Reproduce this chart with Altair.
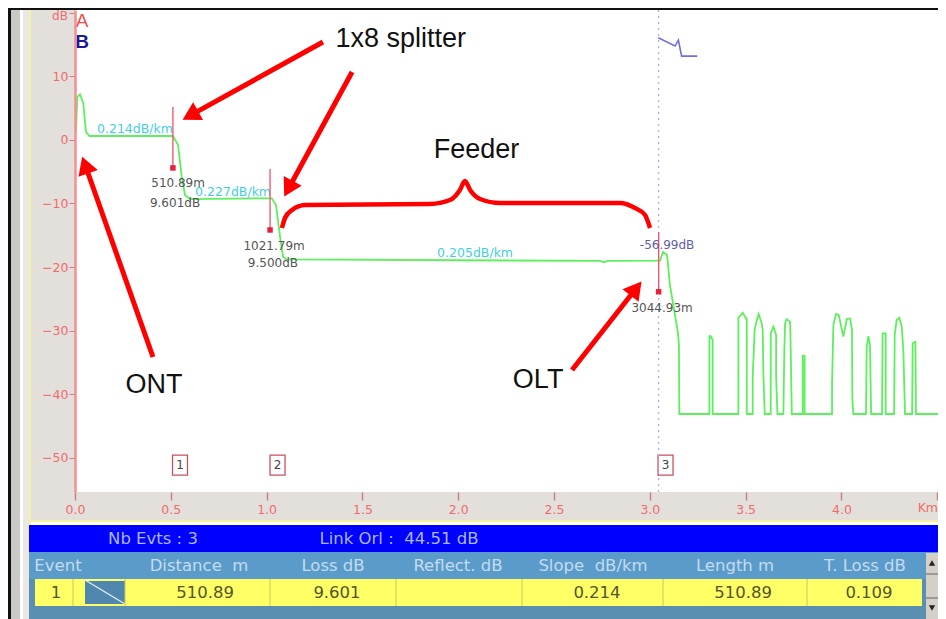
import altair as alt
import pandas as pd

# ---------- data (km, dB) ----------
trace_km = [0.005,0.012,0.026,0.043,0.057,0.075,0.511,0.538,0.557,0.574,0.600,1.027,1.049,1.070,1.086,1.105,
            2.74,2.76,2.78,3.053,3.069,3.09,3.105,3.147,3.152,3.154,
            3.311,3.311,3.317,3.328,3.328,
            3.462,3.462,3.467,3.485,3.502,3.506,3.506,
            3.537,3.537,3.547,3.554,3.568,3.584,3.589,3.593,3.600,
            3.631,3.631,3.645,3.659,3.659,3.666,
            3.697,3.702,3.706,3.714,3.732,3.735,3.741,
            3.798,3.798,3.808,3.808,
            3.951,3.951,3.958,3.972,3.986,4.010,4.028,4.045,4.055,4.057,4.062,
            4.128,4.132,4.141,4.149,4.155,
            4.212,4.215,4.231,4.231,
            4.275,4.278,4.288,4.302,4.315,4.323,4.332,
            4.369,4.372,4.386,4.389,4.504]
trace_db = [1.3,6.77,7.2,5.83,1.3,0.63,0.63,-0.8,-5.78,-8.66,-9.3,-9.18,-10.24,-15.2,-18.4,-18.8,
            -19.05,-19.25,-19.05,-19.0,-17.64,-18.1,-22.8,-30.4,-32.3,-43.15,
            -43.15,-30.87,-30.87,-31.5,-43.15,
            -43.15,-28.0,-27.8,-27.2,-28.1,-28.1,-43.15,
            -43.15,-37.3,-29.9,-28.9,-27.4,-28.9,-29.9,-37.3,-43.15,
            -43.15,-30.45,-29.4,-30.7,-37.3,-43.15,
            -43.15,-33.07,-28.9,-28.2,-28.6,-32.44,-43.15,
            -43.15,-34.0,-34.0,-43.15,
            -43.15,-38.3,-29.1,-27.4,-27.56,-30.97,-28.2,-28.1,-29.9,-40.7,-43.15,
            -43.15,-32.55,-30.87,-32.3,-43.15,
            -43.15,-30.45,-30.45,-43.15,
            -43.15,-30.7,-28.35,-28.0,-29.4,-33.07,-43.15,
            -43.15,-32.0,-31.76,-43.15,-43.15]
blue_km = [3.044,3.132,3.149,3.166,3.248]
blue_db = [16.1,14.8,15.75,13.2,13.2]

event_km = [0.511,1.018,3.046]
event_top = [5.2,-4.57,-14.5]
event_bot = [-4.4,-14.17,-23.9]
cursor_km = [3.046]

box_km = [0.548,1.057,3.082]
box_db = [-51.2,-51.2,-51.2]
box_txt = ["1","2","3"]

label_txt = ["510.89m","9.601dB","1021.79m","9.500dB","3044.93m"]
label_km = [0.538,0.522,1.039,1.033,3.064]
label_db = [-6.77,-9.92,-16.7,-19.37,-26.46]
slope_txt = ["0.214dB/km","0.227dB/km","0.205dB/km"]
slope_km = [0.313,0.825,2.088]
slope_db = [1.73,-8.19,-17.8]

note_txt = ["1x8 splitter","Feeder","ONT","OLT"]
note_km = [1.700,2.095,0.412,2.417]
note_db = [15.9,-1.57,-38.6,-37.8]

arrow_id = [1,1,2,2,3,3,4,4]
arrow_km = [1.294,0.602,1.446,1.114,0.407,0.053,2.594,2.928]
arrow_db = [15.43,3.87,10.71,-7.67,-34.17,-3.94,-36.22,-23.39]
head_km = [0.602,1.114,0.053,2.928]
head_db = [3.87,-7.67,-3.94,-23.39]
head_angle = [241,208.5,340.5,38.2]

brace_km = [1.080,1.096,1.133,1.200,1.853,1.957,2.009,2.035,2.062,2.114,2.218,2.844,2.923,2.975,3.001]
brace_db = [-13.86,-12.28,-11.02,-10.24,-10.08,-9.45,-7.87,-6.46,-7.87,-9.29,-9.92,-9.92,-10.71,-11.81,-13.86]

header_txt = ["Event","Distance\u00a0\u00a0m","Loss dB","Reflect. dB","Slope\u00a0\u00a0dB/km","Length m","T. Loss dB"]
row_txt = ["1","510.89","9.601","0.214","510.89","0.109"]
bar_txt = ["Nb Evts : 3","Link Orl :\u00a0\u00a044.51 dB"]

# ---------- layout ----------
OX, OY = 75, 10
W, H = 863, 482
RIGHT = 938
FONT = "Liberation Sans"
UI = "DejaVu Sans"
one = pd.DataFrame({"a": [0]})

xs = alt.Scale(domain=[0, 4.504], nice=False, zero=False)
ys = alt.Scale(domain=[-55.43, 20.47], nice=False, zero=False)
RED = "#f26a6a"
xaxis = alt.Axis(values=[0,0.5,1,1.5,2,2.5,3,3.5,4,4.5], title=None, grid=False, domain=False,
                 labelExpr="datum.value==4.5?'':format(datum.value,'.1f')", labelColor=RED,
                 labelFont=UI, labelFontSize=12.5, tickColor="#c98080", tickSize=8, tickWidth=1.5,
                 labelPadding=3, zindex=1, labelOverlap=False, labelFlush=False)
yaxis = alt.Axis(values=[-50,-40,-30,-20,-10,0,10,20], title=None, grid=False, domain=True,
                 domainColor="#f58f8f", domainWidth=2.5, labelExpr="datum.value==20?'':format(datum.value,'d')",
                 labelColor=RED, labelFont=UI, labelFontSize=12.5, tickColor="#c98080", tickSize=6,
                 labelPadding=1, zindex=1, labelOverlap=False)
X = lambda f: alt.X(f, type="quantitative", scale=xs, axis=xaxis)
Y = lambda f: alt.Y(f, type="quantitative", scale=ys, axis=yaxis)


def rect(x0, x1, y0, y1, fill):
    return alt.Chart(one).mark_rect(fill=fill).encode(
        x=alt.value(x0 - OX), x2=alt.value(x1 - OX), y=alt.value(y0 - OY), y2=alt.value(y1 - OY))


def text(s, x, y, color, size=16.5, align="center", font=UI, weight="normal"):
    return alt.Chart(one).mark_text(text=s, font=font, fontSize=size, color=color, align=align,
                                    baseline="middle", fontWeight=weight).encode(
        x=alt.value(x - OX), y=alt.value(y - OY))


def vline(x, y0, y1, color, width=1):
    return alt.Chart(one).mark_rule(color=color, strokeWidth=width).encode(
        x=alt.value(x - OX), y=alt.value(y0 - OY), y2=alt.value(y1 - OY))


GREY = "#e3e0dc"
chrome = [
    rect(8, RIGHT, 8, 10, "#111111"),
    rect(8, 11, 8, 619, "#111111"),
    rect(11, 20, 10, 619, "#c9c9c5"),
    rect(20, 23, 10, 619, "#ffffff"),
    rect(23, 29, 10, 619, "#e9e8e4"),
    rect(31, 75, 10, 521, GREY),
    rect(31, RIGHT, 492, 521, GREY),
    rect(29, 31, 10, 525, "#f7f0a0"),
    rect(29, RIGHT, 520, 522, "#f7f0a0"),
    rect(29, RIGHT, 525, 552, "#0000ff"),
    rect(29, RIGHT, 552, 579, "#5b9bca"),
    rect(29, RIGHT, 579, 619, "#5a8fb2"),
    rect(35, 922, 579, 606, "#ffff66"),
    rect(85, 125, 581, 604, "#4f87ae"),
    alt.Chart(one).mark_rule(color="#e8f0f4", strokeWidth=1.2).encode(
        x=alt.value(85 - OX), x2=alt.value(125 - OX), y=alt.value(580 - OY), y2=alt.value(604 - OY)),
    rect(926, RIGHT, 553, 619, "#d4d0c8"),
    rect(926, RIGHT, 573, 575, "#9a9a96"),
    rect(926, RIGHT, 597, 599, "#9a9a96"),
    text("Km", RIGHT, 508, RED, 12.5, align="right"),
    text("dB", 60, 16, RED, 12),
]
for dx in [73, 125, 270, 396, 522, 663, 807]:
    chrome.append(vline(dx, 579, 606, "#c8c860"))
for s, x in zip(bar_txt, [153, 399]):
    chrome.append(text(s, x, 539, "#aab8ff"))
for s, x in zip(header_txt, [58, 199, 333, 458, 593, 735, 865]):
    chrome.append(text(s, x, 566, "#c3dcf0"))
for s, x in zip(row_txt, [56, 205, 337, 597, 743, 869]):
    chrome.append(text(s, x, 593, "#55552a"))
for sh, y in zip(["triangle-up", "triangle-down"], [563, 608]):
    chrome.append(alt.Chart(one).mark_point(shape=sh, filled=True, color="#222222", size=40, opacity=1).encode(
        x=alt.value(932 - OX), y=alt.value(y - OY)))

# ---------- data layers ----------
df_trace = pd.DataFrame({"km": trace_km, "db": trace_db, "i": range(len(trace_km))})
df_blue = pd.DataFrame({"km": blue_km, "db": blue_db})
df_event = pd.DataFrame({"km": event_km, "top": event_top, "bot": event_bot})
df_box = pd.DataFrame({"km": box_km, "db": box_db, "t": box_txt})
df_label = pd.DataFrame({"km": label_km, "db": label_db, "t": label_txt})
df_slope = pd.DataFrame({"km": slope_km, "db": slope_db, "t": slope_txt})
df_note = pd.DataFrame({"km": note_km, "db": note_db, "t": note_txt})
df_arrow = pd.DataFrame({"km": arrow_km, "db": arrow_db, "id": arrow_id})
df_head = pd.DataFrame({"km": head_km, "db": head_db, "a": head_angle})
df_brace = pd.DataFrame({"km": brace_km, "db": brace_db})
df_cursor = pd.DataFrame({"km": cursor_km})

layers = chrome + [
    alt.Chart(df_box).mark_rect(width=15, height=20, fill="#ffffff", stroke="#c8505f", strokeWidth=1.3).encode(x=X("km"), y=Y("db")),
    alt.Chart(df_cursor).mark_rule(color="#a9a9f2", strokeWidth=1.2, strokeDash=[2, 4]).encode(x=X("km")),
    alt.Chart(df_slope).mark_text(font=UI, fontSize=12.5, color="#3fd0e0").encode(x=X("km"), y=Y("db"), text="t:N"),
    alt.Chart(df_trace).mark_line(color="#5cf05c", strokeWidth=1.8).encode(x=X("km"), y=Y("db"), order="i:Q"),
    alt.Chart(df_blue).mark_line(color="#6f6fe6", strokeWidth=1.6).encode(x=X("km"), y=Y("db")),
    alt.Chart(df_event).mark_rule(color="#f0506a", strokeWidth=1.3).encode(x=X("km"), y=Y("top"), y2="bot:Q"),
    alt.Chart(df_event).mark_square(color="#e8203a", size=30, opacity=1).encode(x=X("km"), y=Y("bot")),
    alt.Chart(df_label).mark_text(font=UI, fontSize=12, color="#555555").encode(x=X("km"), y=Y("db"), text="t:N"),
    alt.Chart(pd.DataFrame({"km": [3.09], "db": [-16.54], "t": ["-56.99dB"]})).mark_text(
        font=UI, fontSize=12, color="#5e5ea8").encode(x=X("km"), y=Y("db"), text="t:N"),
    alt.Chart(df_box).mark_text(font=UI, fontSize=12, color="#444444").encode(x=X("km"), y=Y("db"), text="t:N"),
    alt.Chart(df_arrow).mark_line(color="#ff0000", strokeWidth=5).encode(x=X("km"), y=Y("db"), detail="id:N"),
    alt.Chart(df_head).mark_point(shape="triangle-up", filled=True, color="#ff0000", size=420, opacity=1).encode(
        x=X("km"), y=Y("db"), angle=alt.Angle("a:Q", scale=None)),
    alt.Chart(df_brace).mark_line(color="#ff0000", strokeWidth=4.5, interpolate="monotone").encode(x=X("km"), y=Y("db")),
    alt.Chart(df_note).mark_text(font=FONT, fontSize=27, color="#111111").encode(x=X("km"), y=Y("db"), text="t:N"),
    text("A", 82, 21, "#f05050", 19, font=FONT),
    text("B", 82, 42, "#1a1a9a", 19, font=FONT, weight="bold"),
]

chart = alt.layer(*layers).properties(
    width=W, height=H,
    autosize=alt.AutoSizeParams(type="none"),
    padding={"left": 67, "top": 2, "right": 0, "bottom": 127},
    background="#ffffff",
).configure_view(strokeWidth=0)

chart.save("out.html", embed_options={"renderer": "svg", "actions": False})
